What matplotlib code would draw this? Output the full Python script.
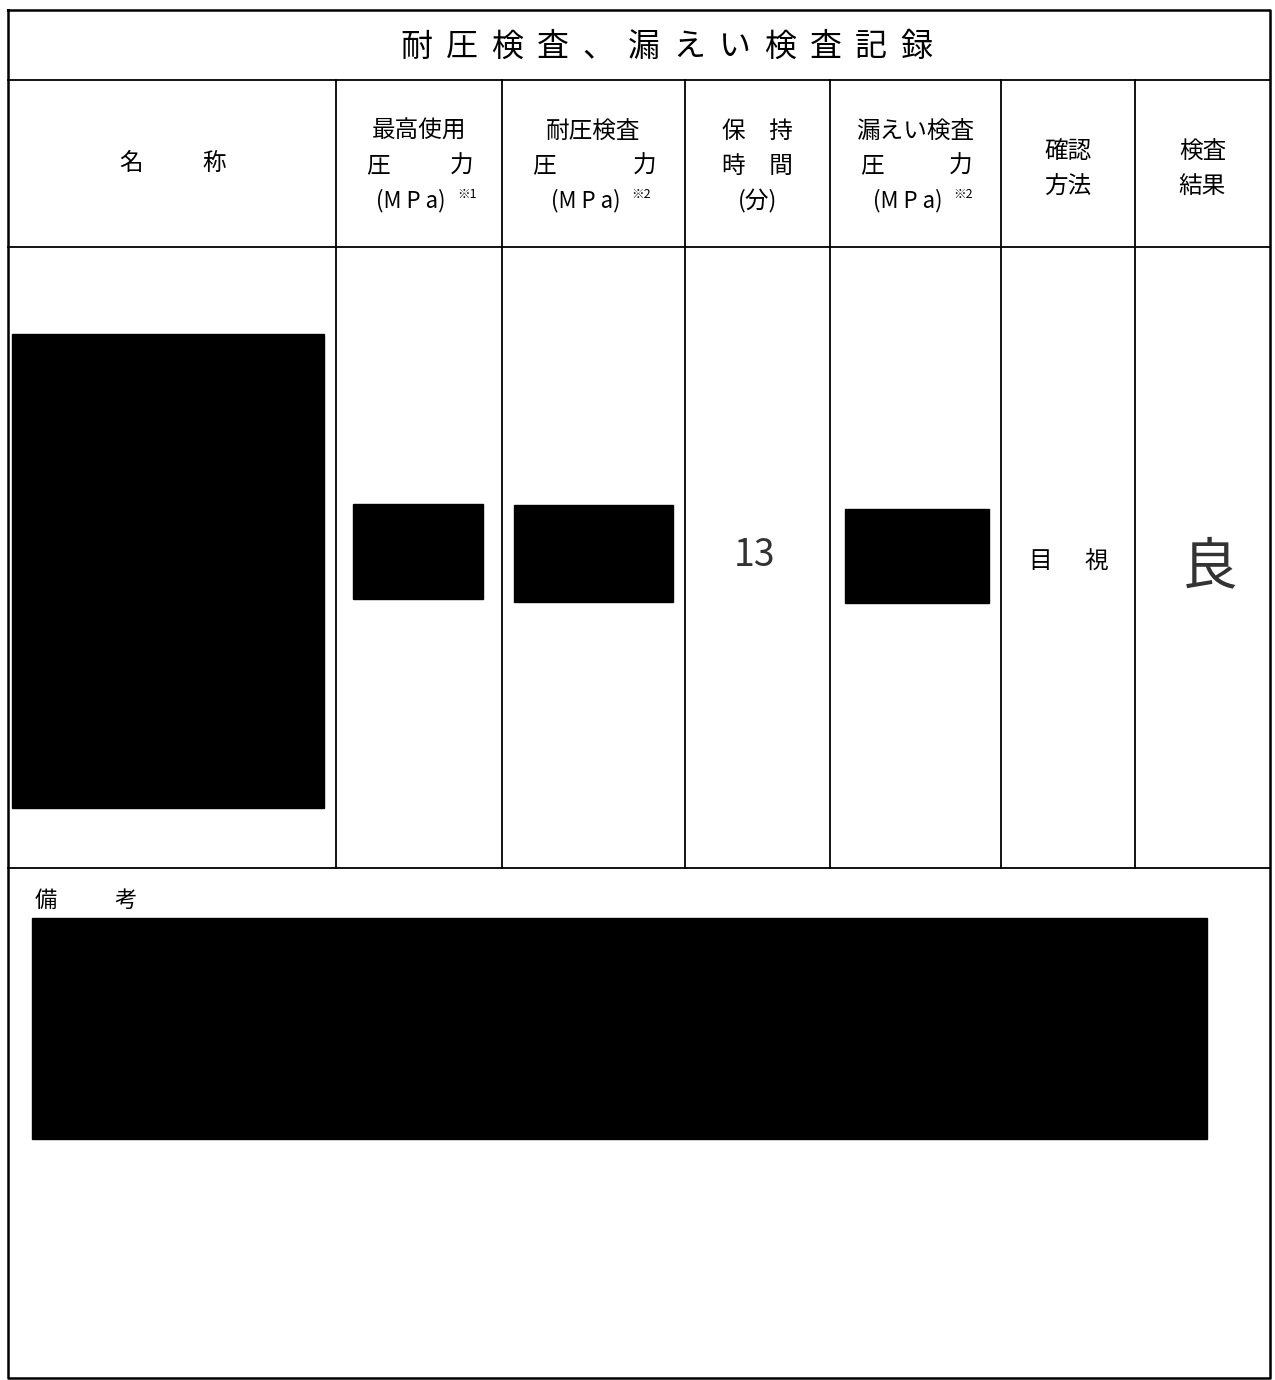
import matplotlib
matplotlib.use("Agg")
import matplotlib.pyplot as plt
from matplotlib.patches import Rectangle

plt.rcParams['font.family'] = ['Noto Sans CJK JP', 'DejaVu Sans']

# form content
title_chars = list("耐圧検査、漏えい検査記録")
name_label = ["名", "称"]
header_top = ["最高使用", "耐圧検査", "保　持", "漏えい検査", "確認", "検査"]
header_mid = ["圧　　力", "圧　　力", "時　間", "圧　　力", "方法", "結果"]
unit_text = ["(M P a)", "(M P a)", "(分)", "(M P a)"]
unit_note = ["※1", "※2", "", "※2"]
hold_time = "13"
method = ["目", "視"]
result = "良"
remarks_label = ["備", "考"]

# layout (pixels)
W, H = 1275, 1380
col_x = [8, 336, 502, 685, 830, 1001, 1135, 1270]
top_y, title_y, head_y, data_y, bot_y = 10, 80, 247, 868, 1378
redacted = [(12, 334, 312, 474), (353, 504, 130, 95), (514, 505, 159, 97),
            (845, 509, 144, 94), (32, 918, 1175, 221)]

fig = plt.figure(figsize=(W / 100, H / 100), dpi=100)
ax = fig.add_axes([0, 0, 1, 1])
ax.set_xlim(0, W)
ax.set_ylim(H, 0)
ax.axis('off')

lw = 1.3
# outer frame and grid
ax.plot([col_x[0], col_x[-1], col_x[-1], col_x[0], col_x[0]],
        [top_y, top_y, bot_y, bot_y, top_y], color='black', lw=1.8)
for y in [title_y, head_y, data_y]:
    ax.plot([col_x[0], col_x[-1]], [y, y], color='black', lw=lw)
for x in col_x[1:-1]:
    ax.plot([x, x], [title_y, data_y], color='black', lw=lw)

# title
tx0, tdx = 416, 45.5
for i, ch in enumerate(title_chars):
    ax.text(tx0 + i * tdx, 47, ch, fontsize=23, ha='center', va='center')

# header: name column
for ch, x in zip(name_label, [131, 214]):
    ax.text(x, 163, ch, fontsize=17, ha='center', va='center')

# header: other columns
hfs = 17
for i in range(6):
    cx = (col_x[i + 1] + col_x[i + 2]) / 2
    if i < 4:
        ys = [131, 166]
    else:
        ys = [151, 186]
    ax.text(cx, ys[0], header_top[i], fontsize=hfs, ha='center', va='center')
    mid = header_mid[i]
    if "　　" in mid:
        a, b = mid.split("　　")
        ax.text(col_x[i + 1] + 42, ys[1], a, fontsize=hfs, ha='center', va='center')
        ax.text(col_x[i + 2] - 40, ys[1], b, fontsize=hfs, ha='center', va='center')
    else:
        ax.text(cx, ys[1], mid, fontsize=hfs, ha='center', va='center')
    if i < 4:
        if unit_note[i]:
            ax.text(cx + 27, 201, unit_text[i], fontsize=hfs - 1,
                    ha='right', va='center')
            ax.text(cx + 38, 194, unit_note[i], fontsize=9,
                    ha='left', va='center')
        else:
            ax.text(cx, 201, unit_text[i], fontsize=hfs, ha='center', va='center')

# redacted blocks
for x, y, w, h in redacted:
    ax.add_patch(Rectangle((x, y), w, h, facecolor='black', edgecolor='black'))

# entries
ax.text(755, 555, hold_time, fontsize=27, ha='center', va='center',
        fontstyle='italic', color='#333333')
for ch, x in zip(method, [1040, 1096]):
    ax.text(x, 562, ch, fontsize=17, ha='center', va='center')
ax.text(1210, 568, result, fontsize=40, ha='center', va='center', color='#333333')
for ch, x in zip(remarks_label, [46, 126]):
    ax.text(x, 900, ch, fontsize=16, ha='center', va='center')

fig.savefig("out.png", dpi=100, facecolor='white')
